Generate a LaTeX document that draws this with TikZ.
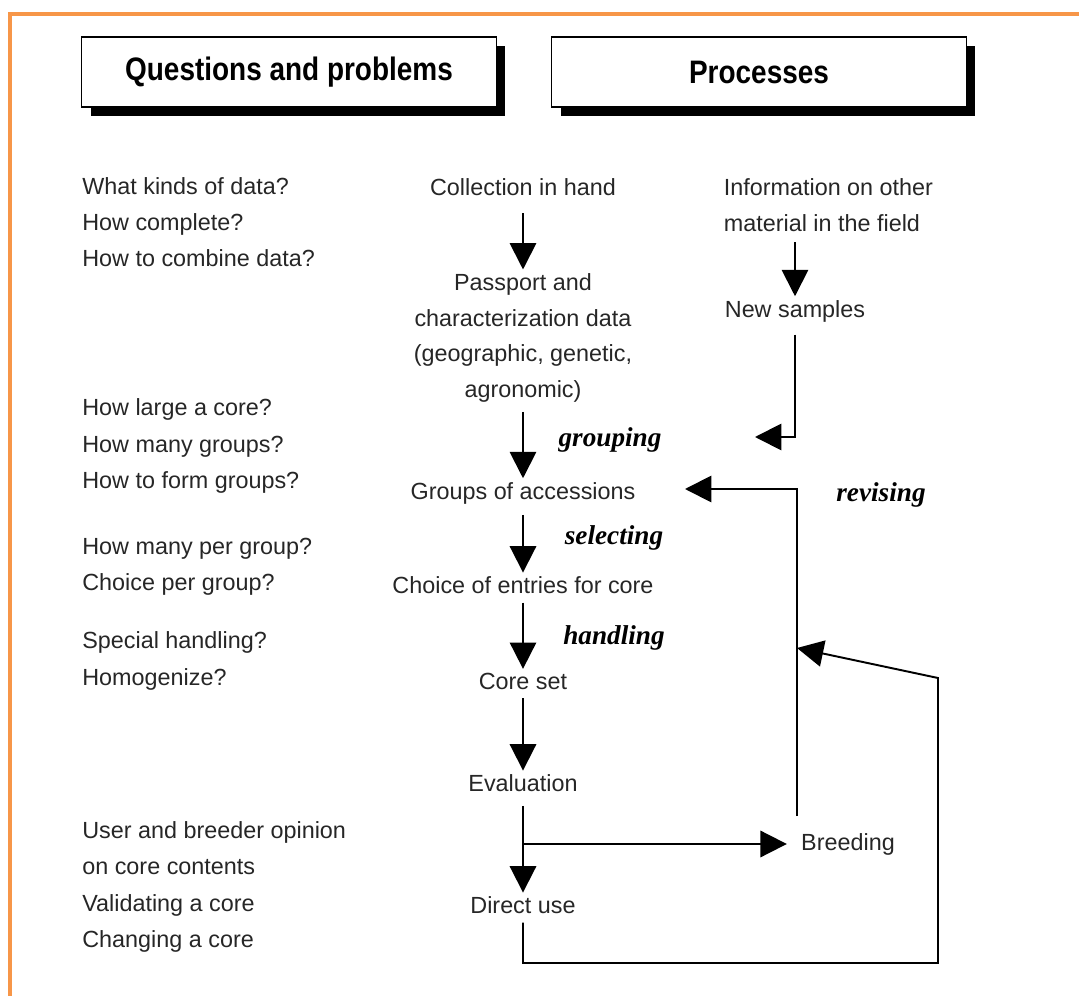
\documentclass[tikz,border=0pt]{standalone}
\usepackage{fontspec}
\setmainfont{Liberation Sans}
\newfontfamily\verbfont{Liberation Serif}
\newfontfamily\headfont[FakeStretch=0.86]{Liberation Sans}
\usetikzlibrary{arrows.meta, shadows, positioning}
\definecolor{frameorange}{RGB}{247,150,72}
\tikzstyle{arrow}     = [line width=1.1pt, -{Triangle[width=15pt,length=15pt]}]
\tikzstyle{header}    = [draw, line width=0.8pt, fill=white, minimum width=8.3cm, minimum height=1.4cm, font=\headfont\fontsize{18.5}{22}\selectfont\bfseries, drop shadow={shadow xshift=0.18cm, shadow yshift=-0.18cm, opacity=1, fill=black}]
\tikzstyle{stage}     = [align=center, inner sep=2pt, text=black!85, font=\fontsize{13.3}{20.4}\selectfont]
\tikzstyle{question}  = [align=left, anchor=west, inner sep=0pt, text=black!85, font=\fontsize{13.3}{20.6}\selectfont]
\tikzstyle{verb}      = [inner sep=1pt, font=\verbfont\bfseries\itshape\fontsize{15.5}{18}\selectfont]

\begin{document}
\begin{tikzpicture}[x=0.02cm, y=-0.02cm]

        \useasboundingbox (0,0) rectangle (1079,996);

        % Rahmen
        \draw[frameorange, line width=2.3pt] (1079,14) -- (10,14) -- (10,996);

        % Kopfzeilen
        \node[header] (qhead) at (289,72) {Questions and problems};
        \node[header] (phead) at (759,72) {Processes};

        % Fragen
        \node[question] (q1) at (82,222)
            {What kinds of data?\\How complete?\\How to combine data?};
        \node[question] (q2) at (82,446)
            {How large a core?\\How many groups?\\How to form groups?};
        \node[question] (q3) at (82,567)
            {How many per group?\\Choice per group?};
        \node[question] (q4) at (82,661)
            {Special handling?\\Homogenize?};
        \node[question] (q5) at (82,887)
            {User and breeder opinion\\on core contents\\Validating a core\\Changing a core};

        % Prozesse
        \node[stage] (coll) at (523,187) {Collection in hand};
        \node[stage] (pass) at (523,338)
            {Passport and\\characterization data\\(geographic, genetic,\\agronomic)};
        \node[stage] (groups) at (523,493) {Groups of accessions};
        \node[stage] (choice) at (523,585) {Choice of entries for core};
        \node[stage] (core) at (523,681) {Core set};
        \node[stage] (eval) at (523,783) {Evaluation};
        \node[stage] (direct) at (523,905) {Direct use};

        \node[stage, align=left, anchor=west] (info) at (720,205)
            {Information on other\\material in the field};
        \node[stage] (new) at (795,311) {New samples};
        \node[stage] (breed) at (848,844) {Breeding};

        % Verben
        \node[verb] (grouping) at (610,440) {grouping};
        \node[verb] (selecting) at (614,538) {selecting};
        \node[verb] (handling) at (614,638) {handling};
        \node[verb] (revising) at (881,495) {revising};

        % Hilfspunkte
        \coordinate (newtip) at (755,437);
        \coordinate (revbottom) at (797,816);
        \coordinate (revcorner) at (797,489);
        \coordinate (revtip) at (685,489);
        \coordinate (loopcorner) at (938,963);
        \coordinate (loopkink) at (938,678);
        \coordinate (looptip) at (797,648);

        % Hauptkette
        \draw[arrow, shorten <=8pt] (coll) -- (pass);
        \draw[arrow, shorten <=3pt] (pass) -- (groups);
        \draw[arrow, shorten <=4pt] (groups) -- (choice);
        \draw[arrow, shorten <=3pt] (choice) -- (core);
        \draw[arrow, shorten <=3pt] (core) -- (eval);
        \draw[arrow, shorten <=6pt] (eval) -- (direct);

        % Seitenzweige
        \draw[arrow, shorten <=4pt] (info.south -| new.north) -- (new.north);
        \draw[arrow, shorten <=5pt] (new.south) |- (newtip);
        \draw[arrow, shorten >=6pt] (eval.south |- breed.west) -- (breed.west);
        \draw[arrow] (revbottom) -- (revcorner) -- (revtip);
        \draw[arrow, shorten <=3pt] (direct.south) |- (loopcorner) -- (loopkink) -- (looptip);

\end{tikzpicture}
\end{document}
